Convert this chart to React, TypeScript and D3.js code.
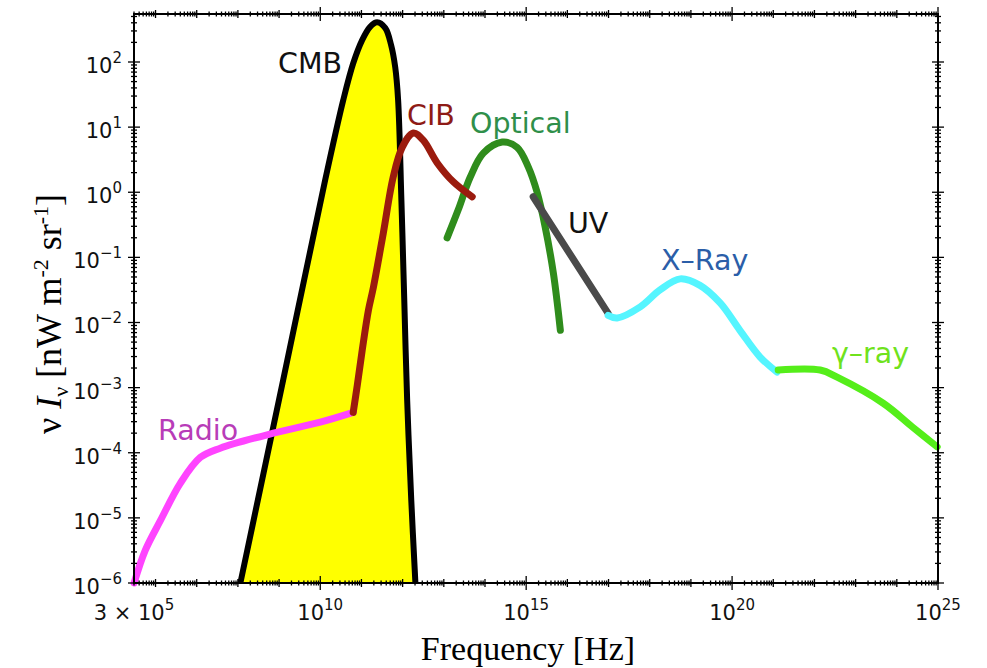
import React, { useEffect, useRef } from 'react';
import * as d3 from 'd3';

// [log10 frequency (Hz), log10 nu*I_nu (nW m^-2 sr^-1)]
const radio: [number, number][] = [
  [5.48, -6.0], [5.75, -5.5], [6.12, -5.04], [6.6, -4.47], [7.09, -4.07],
  [7.57, -3.93], [8.86, -3.7], [10.0, -3.53], [10.8, -3.38],
];
const cmb: [number, number][] = [
  [8.06, -6.0], [9.1, -2.88], [10.12, 0.19], [10.56, 1.42], [10.8, 1.98],
  [11.02, 2.34], [11.21, 2.54], [11.38, 2.61], [11.58, 2.52], [11.72, 2.26],
  [11.82, 1.92], [11.89, 1.42], [11.97, -0.12], [12.04, -1.66], [12.11, -3.19],
  [12.21, -4.73], [12.31, -6.0],
];
const cib: [number, number][] = [
  [10.8, -3.38], [10.9, -2.96], [11.02, -2.42], [11.17, -1.81], [11.29, -1.46],
  [11.53, -0.63], [11.77, 0.23], [11.99, 0.69], [12.26, 0.91], [12.5, 0.8],
  [12.84, 0.45], [13.23, 0.16], [13.69, -0.07],
];
const optical: [number, number][] = [
  [13.08, -0.7], [13.35, -0.27], [13.64, 0.23], [13.96, 0.6], [14.42, 0.77],
  [14.78, 0.69], [15.05, 0.39], [15.27, -0.01], [15.46, -0.53], [15.66, -1.24],
  [15.83, -2.12],
];
const uv: [number, number][] = [[15.17, -0.07], [16.99, -1.86]];
const xray: [number, number][] = [
  [16.99, -1.89], [17.21, -1.93], [17.77, -1.76], [18.25, -1.5], [18.74, -1.33],
  [19.22, -1.43], [19.71, -1.7], [20.19, -2.12], [20.68, -2.53], [21.09, -2.76],
];
const gamma: [number, number][] = [
  [21.12, -2.73], [22.14, -2.73], [22.55, -2.84], [23.67, -3.24], [24.39, -3.61],
  [24.98, -3.91],
];

const xMajor = [10, 15, 20, 25];
const yDecades = [-6, -5, -4, -3, -2, -1, 0, 1, 2];

const bands = [
  { name: 'Radio', data: radio, color: '#ff44ff', label: '#b83cb8', lx: 158, ly: 440 },
  { name: 'Optical', data: optical, color: '#2f8c1c', label: '#2f8f4a', lx: 470, ly: 133 },
  { name: 'CIB', data: cib, color: '#9b1b0e', label: '#8e1b16', lx: 407, ly: 125 },
  { name: 'UV', data: uv, color: '#4a4a4a', label: '#111111', lx: 568, ly: 233 },
  { name: 'X\u2013Ray', data: xray, color: '#55f5ff', label: '#2b5ea8', lx: 661, ly: 270 },
  { name: '\u03b3\u2013ray', data: gamma, color: '#55ee1a', label: '#6fe21c', lx: 832, ly: 363 },
];

const App = () => {
  const svgRef = useRef(null);

  useEffect(() => {
    document.body.style.margin = '0';
    const svg = d3.select(svgRef.current);
    svg.selectAll('*').remove();

    const left = 134, right = 938, top = 14, bottom = 583;
    const x = d3.scaleLog().domain([3e5, 1e25]).range([left, right]);
    const y = d3.scaleLog().domain([1e-6, Math.pow(10, 2.737)]).range([bottom, top]);

    const line = d3.line<[number, number]>()
      .x(d => x(Math.pow(10, d[0])))
      .y(d => y(Math.pow(10, d[1])))
      .curve(d3.curveCatmullRom.alpha(0.5));

    const area = d3.area<[number, number]>()
      .x(d => x(Math.pow(10, d[0])))
      .y0(bottom)
      .y1(d => y(Math.pow(10, d[1])))
      .curve(d3.curveCatmullRom.alpha(0.5));

    const g = svg.append('g');
    const labelFont = 'DejaVu Sans';

    // CMB blackbody, filled
    g.append('path').attr('d', area(cmb)).attr('fill', '#ffff00');
    g.append('path').attr('d', line(cmb)).attr('fill', 'none')
      .attr('stroke', '#000').attr('stroke-width', 6).attr('stroke-linejoin', 'round');
    g.append('text').attr('x', 278).attr('y', 73).text('CMB')
      .attr('font-family', labelFont).attr('font-size', 28.5).attr('fill', '#111');

    bands.forEach(b => {
      g.append('path').attr('d', line(b.data)).attr('fill', 'none')
        .attr('stroke', b.color).attr('stroke-width', 7)
        .attr('stroke-linecap', 'round').attr('stroke-linejoin', 'round');
    });
    bands.forEach(b => {
      g.append('text').attr('x', b.lx).attr('y', b.ly).text(b.name)
        .attr('font-family', labelFont).attr('font-size', 28.5).attr('fill', b.label);
    });

    // frame
    const ax = svg.append('g').attr('stroke', '#000');
    ax.append('rect').attr('x', left).attr('y', top)
      .attr('width', right - left).attr('height', bottom - top)
      .attr('fill', 'none').attr('stroke-width', 2);

    // x ticks (top and bottom)
    for (let e = 5; e <= 25; e++) {
      for (let k = 1; k <= 9; k++) {
        const v = k * Math.pow(10, e);
        if (v < 3e5 || v > 1e25) continue;
        const px = x(v);
        const len = k === 1 ? (e % 5 === 0 ? 7 : 4) : 2.5;
        [bottom, top].forEach(yy => {
          ax.append('line').attr('x1', px).attr('x2', px)
            .attr('y1', yy - len).attr('y2', yy + len).attr('stroke-width', 1.3);
        });
      }
    }
    // y ticks (left and right)
    for (let e = -6; e <= 2; e++) {
      for (let k = 1; k <= 9; k++) {
        const v = k * Math.pow(10, e);
        if (v < 1e-6 || v > Math.pow(10, 2.737)) continue;
        const py = y(v);
        const len = k === 1 ? 6 : 3;
        [left, right].forEach(xx => {
          ax.append('line').attr('y1', py).attr('y2', py)
            .attr('x1', xx - len).attr('x2', xx + len).attr('stroke-width', 1.3);
        });
      }
    }

    const tickFont = 'DejaVu Sans';
    // y tick labels
    yDecades.forEach(e => {
      const t = svg.append('text').attr('x', 122).attr('y', y(Math.pow(10, e)) + 11)
        .attr('text-anchor', 'end').attr('font-family', tickFont).attr('font-size', 21)
        .attr('fill', '#111');
      t.append('tspan').text('10');
      t.append('tspan').attr('font-size', 15).attr('dy', -10).text(e < 0 ? '\u2212' + -e : String(e));
    });
    // x tick labels
    const x0 = svg.append('text').attr('x', x(3e5)).attr('y', 620)
      .attr('text-anchor', 'middle').attr('font-family', tickFont).attr('font-size', 21)
      .attr('fill', '#111');
    x0.append('tspan').text('3 \u00d7 10');
    x0.append('tspan').attr('font-size', 15).attr('dy', -10).text('5');
    xMajor.forEach(e => {
      const t = svg.append('text').attr('x', x(Math.pow(10, e))).attr('y', 620)
        .attr('text-anchor', 'middle').attr('font-family', tickFont).attr('font-size', 21)
        .attr('fill', '#111');
      t.append('tspan').text('10');
      t.append('tspan').attr('font-size', 15).attr('dy', -10).text(String(e));
    });

    // axis titles
    const font = 'Liberation Serif';
    svg.append('text').attr('x', 528).attr('y', 660).attr('text-anchor', 'middle')
      .attr('font-family', font).attr('font-size', 34).text('Frequency [Hz]');

    const yl = svg.append('text').attr('transform', 'translate(61,314) rotate(-90)')
      .attr('text-anchor', 'middle').attr('font-family', font).attr('font-size', 36);
    yl.append('tspan').text('\u03bd ');
    yl.append('tspan').attr('font-style', 'italic').text('I');
    yl.append('tspan').attr('font-size', 22).attr('dy', 7).text('\u03bd');
    yl.append('tspan').attr('dy', -7).text(' [nW m');
    yl.append('tspan').attr('font-size', 22).attr('dy', -13).text('-2');
    yl.append('tspan').attr('dy', 13).text(' sr');
    yl.append('tspan').attr('font-size', 22).attr('dy', -13).text('-1');
    yl.append('tspan').attr('dy', 13).text(']');
  }, []);

  return <svg ref={svgRef} width={987} height={668} style={{ display: 'block' }} />;
};

export default App;
